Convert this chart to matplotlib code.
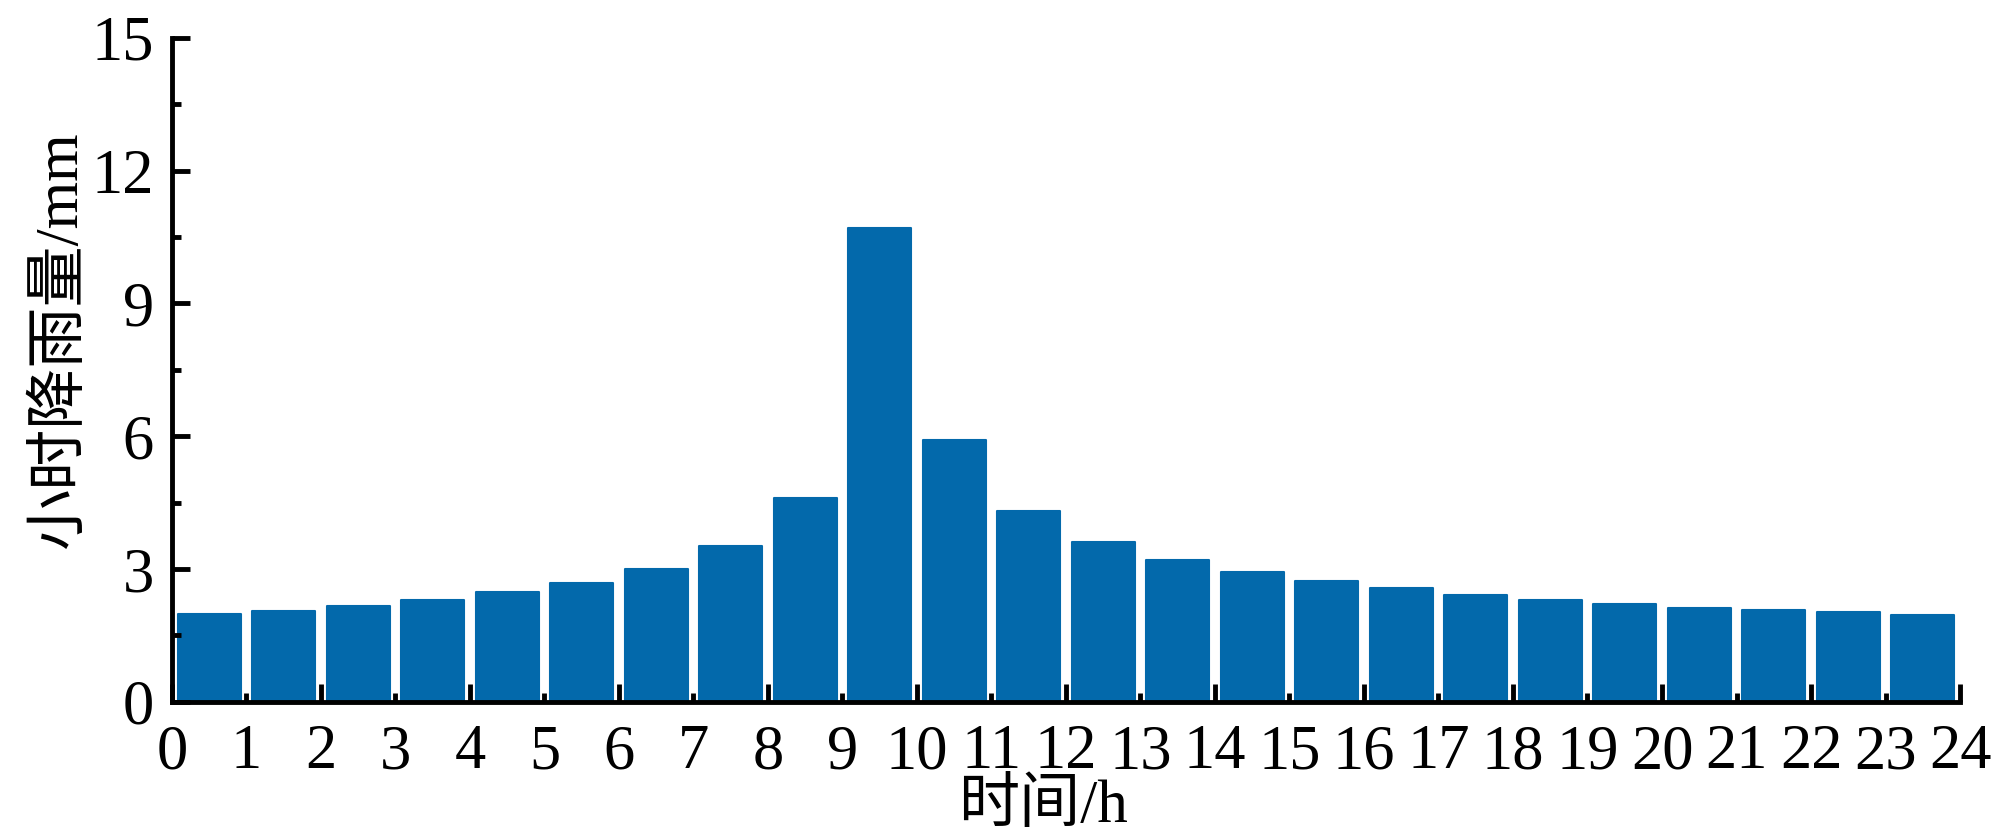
import matplotlib
matplotlib.use("Agg")
import matplotlib.pyplot as plt
import numpy as np

# hourly rainfall
hours = np.arange(24)
rain = [1.99, 2.05, 2.16, 2.31, 2.48, 2.68, 3.00, 3.52, 4.61, 10.70, 5.91, 4.30,
        3.61, 3.20, 2.94, 2.74, 2.57, 2.42, 2.31, 2.22, 2.13, 2.08, 2.02, 1.96]
xlabels = [str(i) for i in range(25)]
yticks = [0, 3, 6, 9, 12, 15]

plt.rcParams['font.family'] = ['Liberation Serif', 'Noto Sans CJK SC']

fig = plt.figure(figsize=(19.99, 8.4), dpi=100)
ax = fig.add_axes([0.086, 0.1645, 0.8945, 0.7905])

ax.bar(hours + 0.5, rain, width=0.85, color='#0369ab', edgecolor='#0369ab',
       linewidth=1.5, joinstyle='round')

ax.set_xlim(0, 24)
ax.set_ylim(0, 15)

ax.set_xticks(range(0, 25, 2), labels=xlabels[0::2])
ax.set_xticks(range(1, 25, 2), labels=xlabels[1::2], minor=True)
ax.set_yticks(yticks)
ax.set_yticks(np.arange(1.5, 15, 3), minor=True)

for s in ['top', 'right']:
    ax.spines[s].set_visible(False)
for s in ['left', 'bottom']:
    ax.spines[s].set_linewidth(3.5)

ax.tick_params(which='both', direction='in', width=3.5, colors='black')
ax.tick_params(which='major', length=13)
ax.tick_params(which='minor', length=6.5)
ax.tick_params(axis='x', which='both', pad=16, labelsize=45)
ax.tick_params(axis='y', which='both', pad=13, labelsize=45)

ax.set_xlabel('时间/h', fontsize=44, va='center')
ax.set_ylabel('小时降雨量/mm', fontsize=44, va='center')
ax.xaxis.set_label_coords(0.487, -0.158)
ax.yaxis.set_label_coords(-0.062, 0.545)

fig.savefig('out.png', dpi=100)
